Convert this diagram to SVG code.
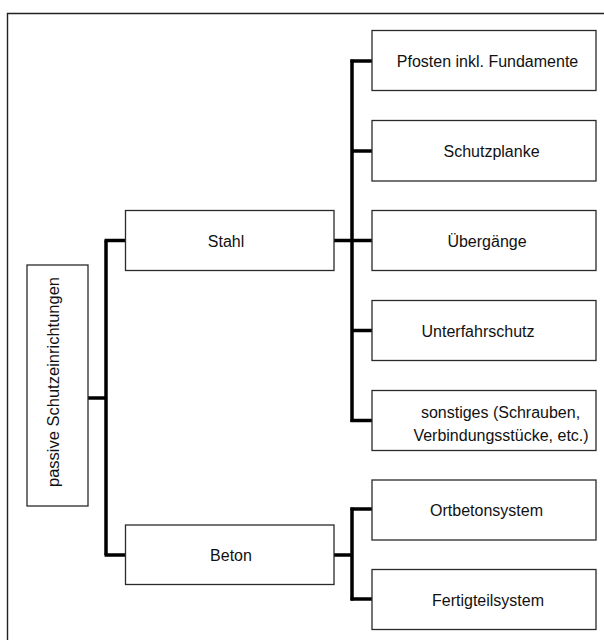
<svg xmlns="http://www.w3.org/2000/svg" width="604" height="640" viewBox="0 0 604 640">
  <style>
    .box { fill: #fff; stroke: #2a2a2a; stroke-width: 1.3; }
    .lbl { font-family: "Liberation Sans", Arial, sans-serif; font-size: 16px; fill: #111; text-anchor: middle; }
    .wire { fill: none; stroke: #000; stroke-width: 3.5; stroke-linejoin: miter; stroke-linecap: butt; }
  </style>
  <rect width="604" height="640" fill="#fff"/>
  <!-- outer frame (only top and left edges fall inside the page) -->
  <path d="M7.5 640 V13.5 H604" fill="none" stroke="#222" stroke-width="1.4"/>

  <g id="connectors">
    <path class="wire" d="M88 398 H106"/>
    <path class="wire" d="M106 240.5 V555"/>
    <path class="wire" d="M104.5 240.5 H125"/>
    <path class="wire" d="M104.5 555 H125"/>
    <path class="wire" d="M334 240.5 H372"/>
    <path class="wire" d="M352 59.5 V422"/>
    <path class="wire" d="M350.5 61 H372"/>
    <path class="wire" d="M352 151 H372"/>
    <path class="wire" d="M350.5 420.5 H372"/>
    <path class="wire" d="M352 330.5 H372"/>
    <path class="wire" d="M334 555 H352"/>
    <path class="wire" d="M352 507.5 V600.5"/>
    <path class="wire" d="M350.5 509 H372"/>
    <path class="wire" d="M350.5 599 H372"/>
  </g>

  <g id="root">
    <rect class="box" x="27" y="265" width="61" height="241"/>
    <text class="lbl" style="font-size:16.5px" transform="translate(59 382) rotate(-90)">passive Schutzeinrichtungen</text>
  </g>

  <g id="stahl">
    <rect class="box" x="125.5" y="210.5" width="208.5" height="60"/>
    <text class="lbl" x="226" y="246.5">Stahl</text>
  </g>
  <g id="beton">
    <rect class="box" x="125.5" y="525" width="208.5" height="59.5"/>
    <text class="lbl" x="231" y="561">Beton</text>
  </g>

  <g id="pfosten">
    <rect class="box" x="372" y="30.5" width="224" height="60"/>
    <text class="lbl" x="487.5" y="67">Pfosten inkl. Fundamente</text>
  </g>
  <g id="schutzplanke">
    <rect class="box" x="372" y="120.5" width="224" height="60.5"/>
    <text class="lbl" x="491.5" y="157">Schutzplanke</text>
  </g>
  <g id="uebergaenge">
    <rect class="box" x="372" y="210.5" width="224" height="60"/>
    <text class="lbl" x="487" y="246.5">Übergänge</text>
  </g>
  <g id="unterfahrschutz">
    <rect class="box" x="372" y="300.5" width="224" height="60"/>
    <text class="lbl" x="478" y="336.5">Unterfahrschutz</text>
  </g>
  <g id="sonstiges">
    <rect class="box" x="372" y="390.5" width="224" height="60"/>
    <text class="lbl" x="500.5" y="418">sonstiges (Schrauben,</text>
    <text class="lbl" x="501" y="441">Verbindungsstücke, etc.)</text>
  </g>
  <g id="ortbeton">
    <rect class="box" x="372" y="480" width="224" height="60"/>
    <text class="lbl" x="486.5" y="516">Ortbetonsystem</text>
  </g>
  <g id="fertigteil">
    <rect class="box" x="372" y="569.5" width="224" height="60"/>
    <text class="lbl" x="488" y="605.5">Fertigteilsystem</text>
  </g>
</svg>
